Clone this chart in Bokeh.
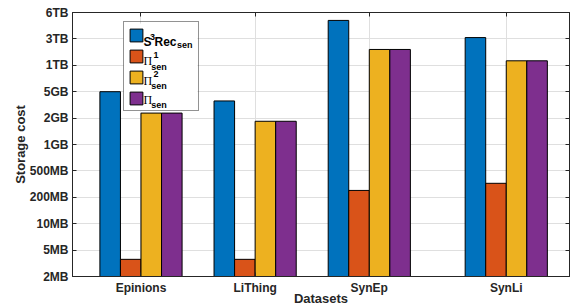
from bokeh.plotting import figure
from bokeh.models import (ColumnDataSource, FixedTicker, LinearAxis, Range1d,
                          Legend, LegendItem, Label, BoxAnnotation)
from bokeh.transform import dodge
from bokeh.embed import file_html
from bokeh.resources import INLINE

# ---- data ----
datasets = ["Epinions", "LiThing", "SynEp", "SynLi"]
dataset_pos = [1, 2, 3, 4.2]
y_tick_labels = ["2MB", "5MB", "10MB", "200MB", "500MB", "1GB", "2GB",
                 "5GB", "1TB", "3TB", "6TB"]
s3rec_sen = [7.0, 6.65, 9.70, 9.05]
pi1_sen = [0.65, 0.65, 3.26, 3.53]
pi2_sen = [6.19, 5.88, 8.60, 8.17]
pi_sen = [6.19, 5.88, 8.60, 8.17]

colors = ["#0072BD", "#D95319", "#EDB120", "#7E2F8E"]
AX = "#262626"
FONT = "Liberation Sans"

W, H = 574, 308
FL, FT, FW, FH = 72, 12, 497, 265
FH_REAL = 262              # frame height after the x axis takes its room
PX0, PY0 = FL, FT          # picture position of frame's top-left

src = ColumnDataSource(dict(x=dataset_pos, a=s3rec_sen, b=pi1_sen, c=pi2_sen, d=pi_sen))

p = figure(width=W, height=H, output_backend="svg", toolbar_location=None,
           x_range=Range1d(0.4, 4.754), y_range=Range1d(0, 10),
           min_border_left=FL, min_border_top=FT,
           min_border_right=W - FL - FW, min_border_bottom=H - FT - FH)
p.outline_line_color = AX
p.outline_line_width = 1
p.background_fill_color = "white"

bw = 0.18
renderers = []
for i, (col, c) in enumerate(zip(["a", "b", "c", "d"], colors)):
    r = p.vbar(x=dodge("x", (i - 1.5) * bw, range=p.x_range), top=col, bottom=0,
               width=bw, source=src, fill_color=c, line_color="black", line_width=1)
    renderers.append(r)

# axes
xa = p.xaxis[0]
xa.ticker = FixedTicker(ticks=dataset_pos)
xa.major_label_overrides = {float(v): n for v, n in zip(dataset_pos, datasets)}
xa.axis_label = "Datasets"
ya = p.yaxis[0]
ya.ticker = FixedTicker(ticks=list(range(len(y_tick_labels))))
ya.major_label_overrides = {i: t for i, t in enumerate(y_tick_labels)}
ya.axis_label = "Storage cost"
for ax in (xa, ya):
    ax.axis_line_color = AX
    ax.major_tick_line_color = AX
    ax.major_tick_in = 4
    ax.major_tick_out = 0
    ax.minor_tick_line_color = None
    ax.major_label_text_font = FONT
    ax.major_label_text_font_style = "bold"
    ax.major_label_text_font_size = "12px"
    ax.major_label_text_color = AX
    ax.axis_label_text_font = FONT
    ax.axis_label_text_font_style = "bold"
    ax.axis_label_text_font_size = "13px"
    ax.axis_label_text_color = AX
xa.major_label_standoff = 4
xa.axis_label_standoff = -7
ya.major_label_standoff = 4
ya.axis_label_standoff = -1

# mirror axes (box ticks)
ra = LinearAxis(ticker=FixedTicker(ticks=list(range(len(y_tick_labels)))),
                major_label_overrides={i: "" for i in range(len(y_tick_labels))})
ta = LinearAxis(ticker=FixedTicker(ticks=dataset_pos),
                major_label_overrides={float(v): "" for v in dataset_pos})
for ax in (ra, ta):
    ax.axis_line_color = AX
    ax.major_tick_line_color = AX
    ax.major_tick_in = 4
    ax.major_tick_out = 0
    ax.minor_tick_line_color = None
    ax.major_label_standoff = 0
    ax.major_label_text_font_size = "1px"
p.add_layout(ra, "right")
p.add_layout(ta, "above")

p.xgrid.ticker = FixedTicker(ticks=dataset_pos)
p.ygrid.ticker = FixedTicker(ticks=list(range(len(y_tick_labels))))
p.grid.grid_line_color = "#dfdfdf"
p.grid.grid_line_width = 1

# legend: white background box, swatches via Legend, texts via labels
LG_L, LG_T, LG_W, LG_H = 123, 21, 74, 88   # picture px
p.add_layout(BoxAnnotation(left=LG_L - PX0, right=LG_L - PX0 + LG_W,
                           top=FH_REAL - (LG_T - PY0),
                           bottom=FH_REAL - (LG_T - PY0) - LG_H,
                           left_units="screen", right_units="screen",
                           top_units="screen", bottom_units="screen",
                           fill_color="white", fill_alpha=1.0, line_color=None,
                           level="underlay"))
items = [LegendItem(label=" ", renderers=[r]) for r in renderers]
leg = Legend(items=items, location=(LG_L - PX0, FH_REAL - (LG_T - PY0) - LG_H),
             glyph_width=16, glyph_height=16, label_height=17, label_width=48,
             label_standoff=2, spacing=4, padding=4, margin=0,
             border_line_color=AX, border_line_width=1,
             background_fill_alpha=0.0, label_text_font_size="1px")
p.add_layout(leg, "center")

def lab(px, py, text, size, font=FONT, style="bold"):
    p.add_layout(Label(x=px - PX0, y=FH_REAL - (py - PY0), x_units="screen",
                       y_units="screen", text=text, text_font=font,
                       text_font_style=style, text_font_size=size,
                       text_color="black", text_baseline="alphabetic"))

# entry 1
lab(143, 39, "S", "12px")
lab(149.5, 34.5, "3", "9px")
lab(154, 39, "Rec", "12px")
lab(176.5, 42.5, "sen", "9px")
# entries 2-4
for k, sup in enumerate(["1", "2", None]):
    base = 58.7 + 19.3 * k
    lab(143, base, "\u03a0", "12px", font="Liberation Serif", style="normal")
    if sup:
        lab(153, base - 6.4, sup, "9px")
    lab(150.7, base + 5.6, "sen", "9px")

open("out.html", "w").write(file_html(p, INLINE))
